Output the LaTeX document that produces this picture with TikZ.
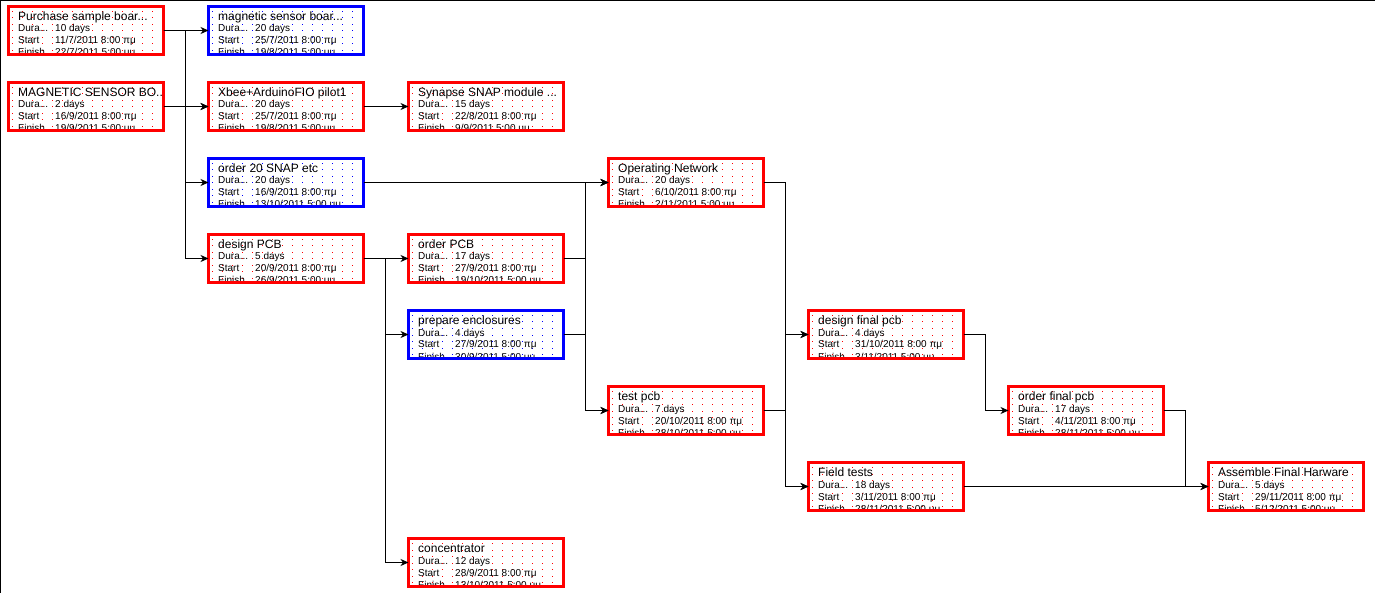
\documentclass[tikz,border=0pt]{standalone}
\usepackage{fontspec}
\setmainfont{Liberation Sans}
\usetikzlibrary{arrows.meta}
\definecolor{pjred}{RGB}{255,0,0}
\definecolor{pjblue}{RGB}{0,0,255}
\tikzset{
  taskframe/.style={draw=#1, line width=3pt, minimum width=155pt, minimum height=48pt, inner sep=0pt, outer sep=0pt, anchor=north west},
  tasktitle/.style={anchor=base west, inner sep=0pt, font=\fontsize{12}{14}\selectfont},
  taskfield/.style={anchor=base west, inner sep=0pt, font=\fontsize{10}{12}\selectfont},
  conn/.style={line width=1pt, -{Stealth[length=8pt,width=7pt,inset=2.5pt]}},
}
\newcommand\taskbox[8]{%
  \begin{scope}
    \clip ({#2+3},{#3+3}) rectangle ({#2+155},{#3+48});
    \foreach \gi in {0,...,15}{\foreach \gj in {0,...,7}{%
      \fill[#4] ({#2+5+10*\gi},{#3+6+6.5*\gj}) rectangle ++(1,1);}}
    \node[tasktitle] (#1-t) at ({#2+11},{#3+15.5}) {#5};
    \node[taskfield] (#1-dl) at ({#2+11},{#3+27}) {Dura...};
    \node[taskfield] (#1-dv) at ({#2+48},{#3+27}) {#6};
    \node[taskfield] (#1-sl) at ({#2+11},{#3+39}) {Start};
    \node[taskfield] (#1-sv) at ({#2+48},{#3+39}) {#7};
    \node[taskfield] (#1-fl) at ({#2+11},{#3+51}) {Finish};
    \node[taskfield] (#1-fv) at ({#2+48},{#3+51}) {#8};
  \end{scope}
  \node[taskframe=#4] (#1) at ({#2+1.5},{#3+1.5}) {};
}
\begin{document}
\begin{tikzpicture}[x=1pt,y=-1pt]
\useasboundingbox (0,0) rectangle (1375,593);
\fill[white] (0,0) rectangle (1375,593);
\draw[line width=1pt] (0,0.5) coordinate (tl) -- (1375,0.5) coordinate (tr);
\draw[line width=1pt] (0.5,0) coordinate (lt) -- (0.5,593) coordinate (lb);

\taskbox{purchase}{7}{5}{pjred}{Purchase sample boar...}{10 days}{11/7/2011 8:00 πμ}{22/7/2011 5:00 μμ}
\taskbox{magnetic}{7}{81}{pjred}{MAGNETIC SENSOR BO...}{2 days}{16/9/2011 8:00 πμ}{19/9/2011 5:00 μμ}
\taskbox{magsens}{207}{5}{pjblue}{magnetic sensor boar...}{20 days}{25/7/2011 8:00 πμ}{19/8/2011 5:00 μμ}
\taskbox{xbee}{207}{81}{pjred}{Xbee+ArduinoFIO pilot1}{20 days}{25/7/2011 8:00 πμ}{19/8/2011 5:00 μμ}
\taskbox{synapse}{407}{81}{pjred}{Synapse SNAP module ...}{15 days}{22/8/2011 8:00 πμ}{9/9/2011 5:00 μμ}
\taskbox{order20}{207}{157}{pjblue}{order 20 SNAP etc}{20 days}{16/9/2011 8:00 πμ}{13/10/2011 5:00 μμ}
\taskbox{designpcb}{207}{233}{pjred}{design PCB}{5 days}{20/9/2011 8:00 πμ}{26/9/2011 5:00 μμ}
\taskbox{orderpcb}{407}{233}{pjred}{order PCB}{17 days}{27/9/2011 8:00 πμ}{19/10/2011 5:00 μμ}
\taskbox{prepenc}{407}{309}{pjblue}{prepare enclosures}{4 days}{27/9/2011 8:00 πμ}{30/9/2011 5:00 μμ}
\taskbox{concentrator}{407}{537}{pjred}{concentrator}{12 days}{28/9/2011 8:00 πμ}{13/10/2011 5:00 μμ}
\taskbox{opnet}{607}{157}{pjred}{Operating Network}{20 days}{6/10/2011 8:00 πμ}{2/11/2011 5:00 μμ}
\taskbox{testpcb}{607}{385}{pjred}{test pcb}{7 days}{20/10/2011 8:00 πμ}{28/10/2011 5:00 μμ}
\taskbox{designfinal}{807}{309}{pjred}{design final pcb}{4 days}{31/10/2011 8:00 πμ}{3/11/2011 5:00 μμ}
\taskbox{fieldtests}{807}{461}{pjred}{Field tests}{18 days}{3/11/2011 8:00 πμ}{28/11/2011 5:00 μμ}
\taskbox{orderfinal}{1007}{385}{pjred}{order final pcb}{17 days}{4/11/2011 8:00 πμ}{28/11/2011 5:00 μμ}
\taskbox{assemble}{1207}{461}{pjred}{Assemble Final Harware}{5 days}{29/11/2011 8:00 πμ}{5/12/2011 5:00 μμ}

% connectors
\foreach \s in {magsens,xbee,order20,designpcb}
  \draw[conn] (purchase.east) -- ++(22,0) |- (\s.west);
\draw[conn] (magnetic.east) -- (xbee.west);
\draw[conn] (xbee.east) -- (synapse.west);
\draw[conn] (order20.east) -- (opnet.west);
\foreach \s in {orderpcb,prepenc,concentrator}
  \draw[conn] (designpcb.east) -- ++(22,0) |- (\s.west);
\foreach \p in {orderpcb,prepenc}
  \foreach \s in {opnet,testpcb}
    \draw[conn] (\p.east) -- ++(22,0) |- (\s.west);
\foreach \p in {opnet,testpcb}
  \foreach \s in {designfinal,fieldtests}
    \draw[conn] (\p.east) -- ++(22,0) |- (\s.west);
\draw[conn] (designfinal.east) -- ++(22,0) |- (orderfinal.west);
\draw[conn] (orderfinal.east) -- ++(22,0) |- (assemble.west);
\draw[conn] (fieldtests.east) -- (assemble.west);
\end{tikzpicture}
\end{document}
